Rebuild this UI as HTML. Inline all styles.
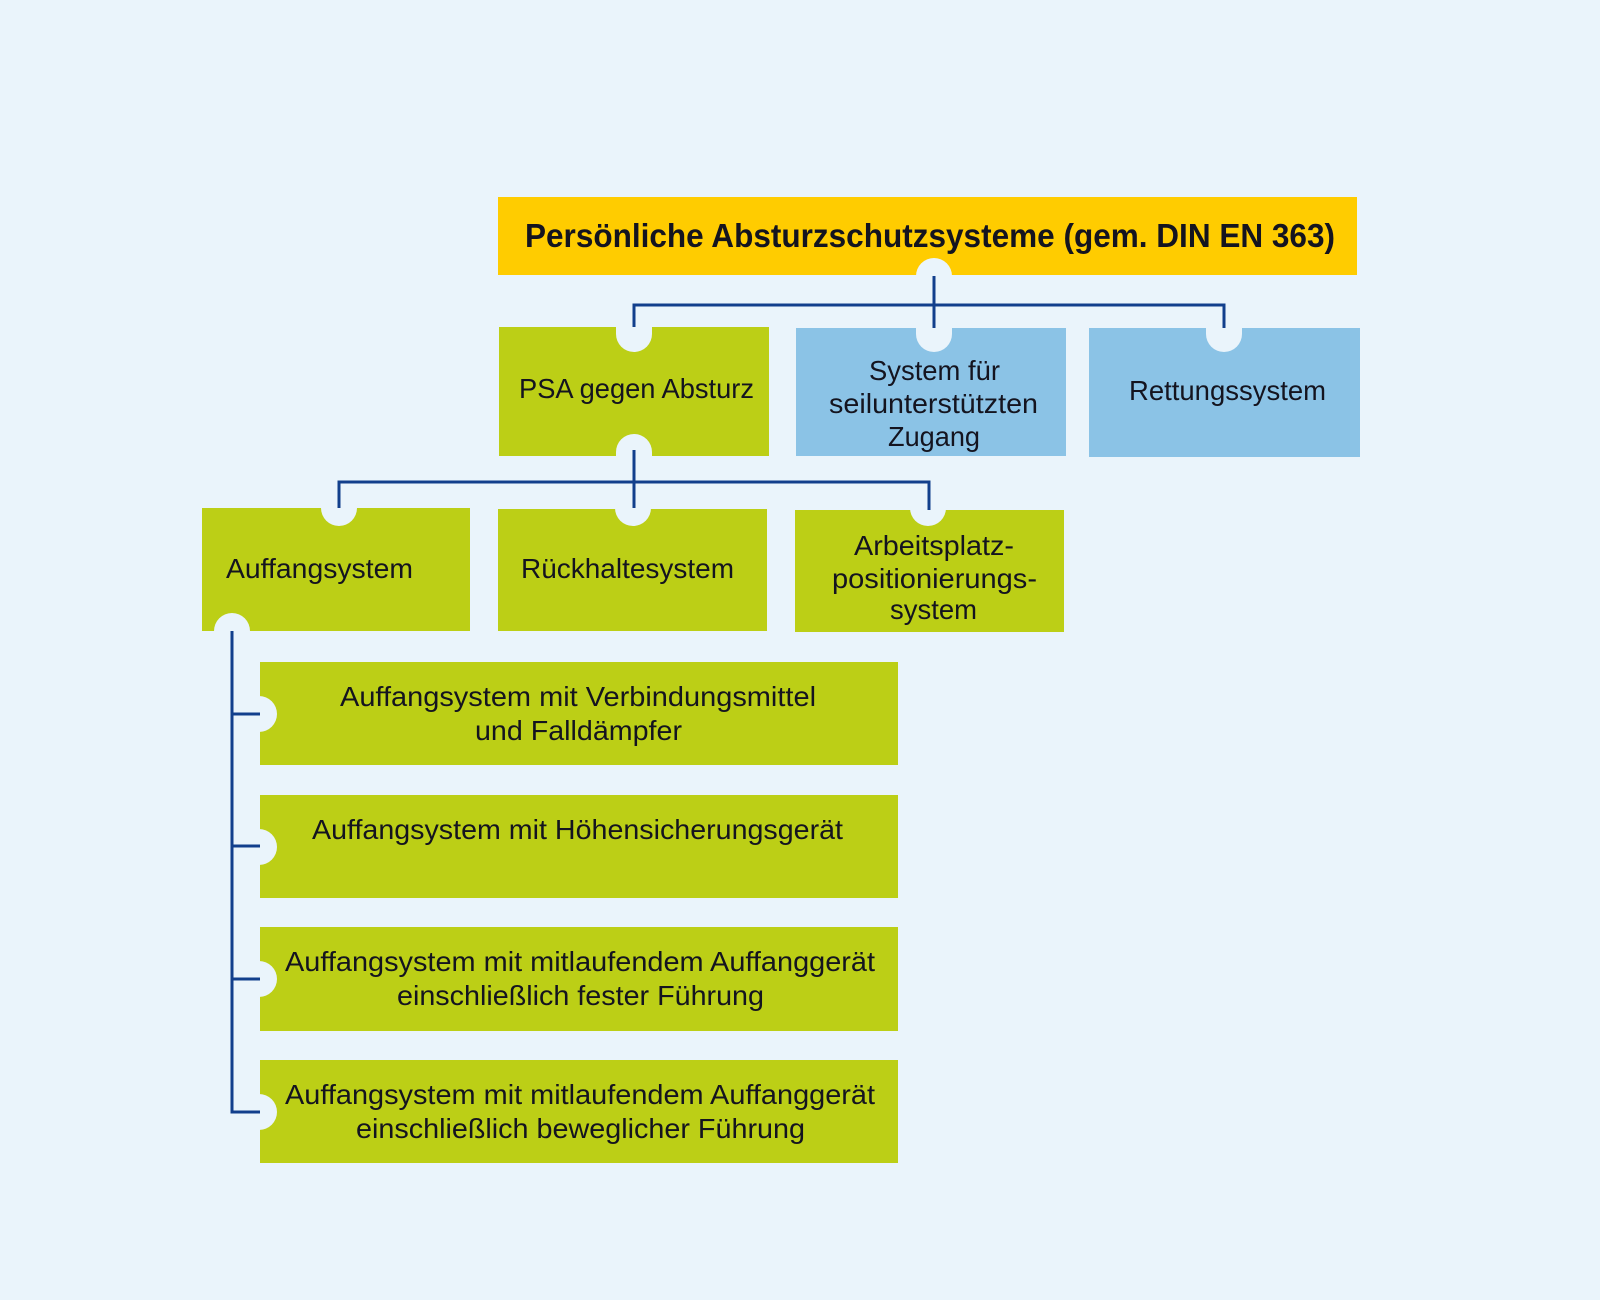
<!DOCTYPE html>
<html>
<head>
<meta charset="utf-8">
<style>
html,body{margin:0;padding:0;background:#eaf4fb;}
body{width:1600px;height:1300px;overflow:hidden;}
svg{display:block;}
text{font-family:"Liberation Sans",Arial,sans-serif;fill:#14141f;}
</style>
</head>
<body>
<svg width="1600" height="1300" viewBox="0 0 1600 1300" xmlns="http://www.w3.org/2000/svg">
  <rect x="0" y="0" width="1600" height="1300" fill="#eaf4fb"/>

  <!-- Title -->
  <rect x="498" y="197" width="859" height="78" fill="#ffcc00"/>

  <!-- Row 2 -->
  <rect x="499" y="327" width="270" height="129" fill="#bccf16"/>
  <rect x="796" y="328" width="270" height="128" fill="#8bc3e6"/>
  <rect x="1089" y="328" width="271" height="129" fill="#8bc3e6"/>

  <!-- Row 3 -->
  <rect x="202" y="508" width="268" height="123" fill="#bccf16"/>
  <rect x="498" y="509" width="269" height="122" fill="#bccf16"/>
  <rect x="795" y="510" width="269" height="122" fill="#bccf16"/>

  <!-- Sub boxes -->
  <rect x="260" y="662" width="638" height="103" fill="#bccf16"/>
  <rect x="260" y="795" width="638" height="103" fill="#bccf16"/>
  <rect x="260" y="927" width="638" height="104" fill="#bccf16"/>
  <rect x="260" y="1060" width="638" height="103" fill="#bccf16"/>

  <!-- Notches (background-colored pills) -->
  <g fill="#eaf4fb">
    <!-- title bottom -->
    <rect x="916" y="258" width="36" height="56" rx="18"/>
    <!-- row 2 tops -->
    <rect x="616" y="296" width="36" height="56" rx="18"/>
    <rect x="916" y="296" width="36" height="56" rx="18"/>
    <rect x="1206" y="296" width="36" height="56" rx="18"/>
    <!-- PSA bottom -->
    <rect x="616" y="434" width="36" height="56" rx="18"/>
    <!-- row 3 tops -->
    <rect x="321" y="470" width="36" height="56" rx="18"/>
    <rect x="615" y="470" width="36" height="56" rx="18"/>
    <rect x="910" y="470" width="36" height="56" rx="18"/>
    <!-- Auffangsystem bottom-left -->
    <rect x="214" y="613" width="36" height="56" rx="18"/>
    <!-- sub box left notches -->
    <rect x="220" y="696" width="57" height="36" rx="18"/>
    <rect x="220" y="829" width="57" height="36" rx="18"/>
    <rect x="220" y="961" width="57" height="36" rx="18"/>
    <rect x="220" y="1094" width="57" height="36" rx="18"/>
  </g>

  <!-- Connector lines -->
  <g stroke="#123f8c" stroke-width="3" fill="none" stroke-linecap="butt">
    <line x1="934" y1="276" x2="934" y2="328"/>
    <polyline points="634,327 634,305 1224,305 1224,328"/>
    <line x1="634" y1="450" x2="634" y2="508"/>
    <polyline points="339,508 339,482 929,482 929,510"/>
    <polyline points="232,631 232,1112 260,1112"/>
    <line x1="232" y1="714" x2="260" y2="714"/>
    <line x1="232" y1="846" x2="260" y2="846"/>
    <line x1="232" y1="979" x2="260" y2="979"/>
  </g>

  <!-- Texts -->
  <text x="525" y="247" font-size="33" font-weight="bold" textLength="810" lengthAdjust="spacingAndGlyphs">Persönliche Absturzschutzsysteme (gem. DIN EN 363)</text>

  <text x="519" y="398" font-size="28" textLength="235" lengthAdjust="spacingAndGlyphs">PSA gegen Absturz</text>

  <text x="869" y="380" font-size="28" textLength="131" lengthAdjust="spacingAndGlyphs">System für</text>
  <text x="829" y="413" font-size="28" textLength="209" lengthAdjust="spacingAndGlyphs">seilunterstützten</text>
  <text x="888" y="446" font-size="28" textLength="92" lengthAdjust="spacingAndGlyphs">Zugang</text>

  <text x="1129" y="400" font-size="28" textLength="197" lengthAdjust="spacingAndGlyphs">Rettungssystem</text>

  <text x="226" y="578" font-size="28" textLength="187" lengthAdjust="spacingAndGlyphs">Auffangsystem</text>
  <text x="521" y="578" font-size="28" textLength="213" lengthAdjust="spacingAndGlyphs">Rückhaltesystem</text>

  <text x="854" y="555" font-size="28" textLength="160" lengthAdjust="spacingAndGlyphs">Arbeitsplatz-</text>
  <text x="832" y="588" font-size="28" textLength="205" lengthAdjust="spacingAndGlyphs">positionierungs-</text>
  <text x="890" y="619" font-size="28" textLength="87" lengthAdjust="spacingAndGlyphs">system</text>

  <text x="340" y="706" font-size="28" textLength="476" lengthAdjust="spacingAndGlyphs">Auffangsystem mit Verbindungsmittel</text>
  <text x="475" y="740" font-size="28" textLength="207" lengthAdjust="spacingAndGlyphs">und Falldämpfer</text>

  <text x="312" y="839" font-size="28" textLength="531" lengthAdjust="spacingAndGlyphs">Auffangsystem mit Höhensicherungsgerät</text>

  <text x="285" y="971" font-size="28" textLength="590" lengthAdjust="spacingAndGlyphs">Auffangsystem mit mitlaufendem Auffanggerät</text>
  <text x="397" y="1005" font-size="28" textLength="367" lengthAdjust="spacingAndGlyphs">einschließlich fester Führung</text>

  <text x="285" y="1104" font-size="28" textLength="590" lengthAdjust="spacingAndGlyphs">Auffangsystem mit mitlaufendem Auffanggerät</text>
  <text x="356" y="1138" font-size="28" textLength="449" lengthAdjust="spacingAndGlyphs">einschließlich beweglicher Führung</text>
</svg>
</body>
</html>
